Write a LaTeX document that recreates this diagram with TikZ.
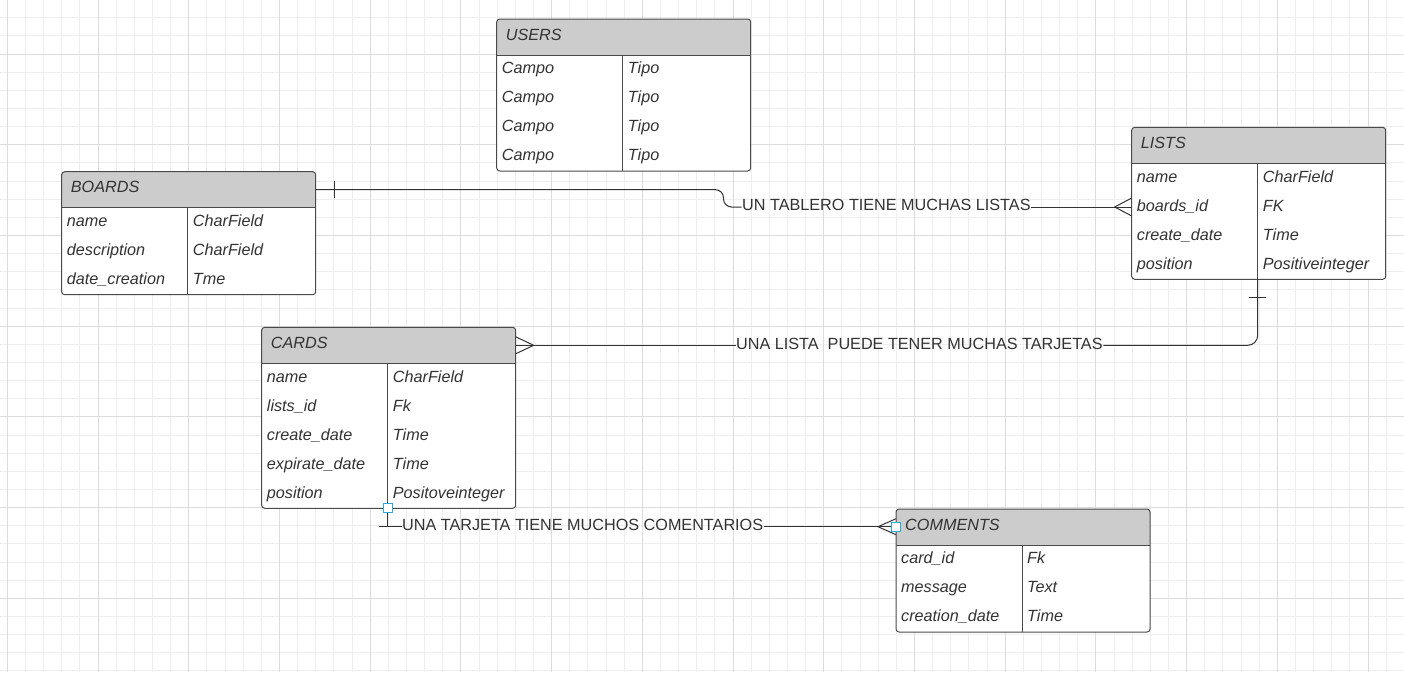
\documentclass[tikz,border=0pt]{standalone}
\usepackage{fontspec}
\setmainfont{Liberation Sans}
\definecolor{txt}{HTML}{333333}
\definecolor{bord}{HTML}{4A4A4A}
\definecolor{hdr}{HTML}{CCCCCC}
\definecolor{gmin}{HTML}{EEEEEE}
\definecolor{gmaj}{HTML}{DCDCDC}
\definecolor{handleblue}{HTML}{2CA9E1}
\tikzset{
  gridminor/.style={draw=gmin, line width=1pt},
  gridmajor/.style={draw=gmaj, line width=1pt},
  tblbg/.style={fill=white, inner sep=0pt, outer sep=0pt, minimum width=254pt},
  tblline/.style={draw=bord, line width=1pt},
  hdrtext/.style={anchor=west, inner sep=0pt, text height=11.5pt, text depth=0pt, text=txt, font=\fontsize{16.2}{19}\selectfont\itshape},
  rowtext/.style={anchor=west, inner sep=0pt, text height=11.5pt, text depth=0pt, text=txt, font=\fontsize{16.2}{19}\selectfont\itshape},
  lbltext/.style={anchor=west, inner sep=0.5pt, text height=11.5pt, text depth=4pt, text=txt, font=\fontsize{16.2}{19}\selectfont},
  conn/.style={draw=txt, line width=1pt},
  handle/.style={draw=handleblue, fill=white, line width=1pt, inner sep=0pt, minimum size=9pt},
}
\newcommand{\ertbl}[6]{%
  \pgfmathsetmacro\tblh{36+29*#5}%
  \node[tblbg, minimum height=\tblh pt, anchor=north west] (#1) at (#2,#3) {};
  \begin{scope}
    \clip[rounded corners=3pt] (#1.north west) rectangle (#1.south east);
    \fill[hdr] (#1.north west) rectangle ([yshift=-36pt]#1.north east);
  \end{scope}
  \draw[tblline] ([yshift=-36pt]#1.north west) -- ([yshift=-36pt]#1.north east);
  \draw[tblline] ([yshift=-36pt,xshift=126pt]#1.north west) -- ([xshift=126pt]#1.south west);
  \draw[tblline, rounded corners=3pt] (#1.north west) rectangle (#1.south east);
  \node[hdrtext] (#1-title) at ([xshift=9pt,yshift=-15.5pt]#1.north west) {#4};
  \foreach \a/\b [count=\i] in {#6} {
    \node[rowtext] (#1-a\i) at ([xshift=5pt,yshift={-20pt-29pt*\i}]#1.north west) {\a};
    \node[rowtext] (#1-b\i) at ([xshift=131pt,yshift={-20pt-29pt*\i}]#1.north west) {\b};
  }
}
\begin{document}
\begin{tikzpicture}[x=1pt,y=-1pt]
\useasboundingbox (0,0) rectangle (1404,672);
\fill[white] (0,0) rectangle (1404,672);
% grid
\foreach \i in {0,...,76} \draw[gridminor] ({7.3+18.143*\i},0) -- ({7.3+18.143*\i},672);
\foreach \i in {0,...,37} \draw[gridminor] (0,{-0.43+18.143*\i}) -- (1404,{-0.43+18.143*\i});
\foreach \i in {0,...,15} \draw[gridmajor] ({7.3+90.715*\i},0) -- ({7.3+90.715*\i},672);
\foreach \i in {0,...,6} \draw[gridmajor] (0,{54+90.715*\i}) -- (1404,{54+90.715*\i});

% tables
\ertbl{users}{496.7}{19}{USERS}{4}{Campo/Tipo, Campo/Tipo, Campo/Tipo, Campo/Tipo}
\ertbl{boards}{61.7}{171.7}{BOARDS}{3}{name/CharField, description/CharField, date\_creation/Tme}
\ertbl{lists}{1131.7}{127.3}{LISTS}{4}{name/CharField, boards\_id/FK, create\_date/Time, position/Positiveinteger}
\ertbl{cards}{261.7}{327.3}{CARDS}{5}{name/CharField, lists\_id/Fk, create\_date/Time, expirate\_date/Time, position/Positoveinteger}
\ertbl{comments}{896}{509}{COMMENTS}{3}{card\_id/Fk, message/Text, creation\_date/Time}

% labels
\node[lbltext] (lbl1) at (741.5,207) {UN TABLERO TIENE MUCHAS LISTAS};
\node[lbltext] (lbl2) at (735.5,345.3) {UNA LISTA\ \ PUEDE TENER MUCHAS TARJETAS};
\node[lbltext] (lbl3) at (401.5,526.7) {UNA TARJETA TIENE MUCHOS COMENTARIOS};

% connector 1: boards -> lists
\coordinate (s1) at ([yshift=-18pt]boards.north east);
\draw[conn, rounded corners=8pt] (s1) -| ([xshift=-18pt]lbl1.west) -- (lbl1.west);
\draw[conn] ([xshift=18.5pt,yshift=-9.5pt]boards.north east) -- ([xshift=18.5pt,yshift=-26.5pt]boards.north east);
\coordinate (e1) at (lists.west |- lbl1.east);
\draw[conn] (lbl1.east) -- (e1);
\draw[conn] ([yshift=9pt]e1) -- ([xshift=-17pt]e1) -- ([yshift=-9pt]e1);

% connector 2: lists -> cards
\coordinate (s2) at ([xshift=126pt]lists.south west);
\draw[conn, rounded corners=10pt] (s2) |- (lbl2.east);
\draw[conn] ([xshift=-8.5pt,yshift=-18pt]s2) -- ([xshift=8.5pt,yshift=-18pt]s2);
\coordinate (e2) at ([yshift=-18pt]cards.north east);
\draw[conn] (lbl2.west) -- (e2);
\draw[conn] ([yshift=8.5pt]e2) -- ([xshift=18pt]e2) -- ([yshift=-8.5pt]e2);

% connector 3: cards -> comments
\coordinate (s3) at ([xshift=126pt]cards.south west);
\draw[conn] (s3) |- (lbl3.west);
\coordinate (k3) at (s3 |- lbl3.west);
\draw[conn] ([xshift=-8.5pt]k3) -- ([xshift=8.5pt]k3);
\coordinate (e3) at (comments.west |- lbl3.east);
\draw[conn] (lbl3.east) -- (e3);
\draw[conn] ([yshift=8pt]e3) -- ([xshift=-18pt]e3) -- ([yshift=-8pt]e3);

% selection handles
\node[handle] (h1) at (s3) {};
\node[handle] (h2) at (e3) {};
\end{tikzpicture}
\end{document}
